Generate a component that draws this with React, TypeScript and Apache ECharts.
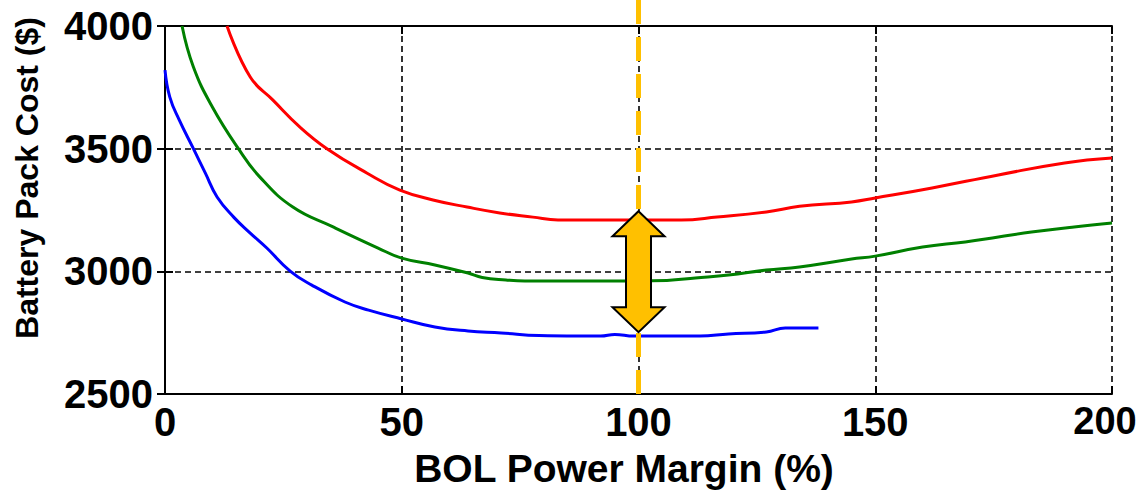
import React, { useEffect, useRef } from "react";
import * as echarts from "echarts";

const X_TICKS = [0, 50, 100, 150, 200];
const Y_TICKS = [2500, 3000, 3500, 4000];

const blueX = [0, 1, 3, 6, 8.5, 11, 14.5, 18, 21.5, 26.5, 31, 38, 43, 50, 57, 64, 71, 79, 87, 92, 95, 99, 106, 113, 119, 127, 131, 138];
const blueY = [3820, 3711, 3617, 3500, 3401, 3303, 3221, 3156, 3095, 3000, 2944, 2875, 2842, 2806, 2773, 2757, 2749, 2738, 2736, 2736, 2743, 2736, 2736, 2736, 2745, 2753, 2769, 2769];

const greenX = [3.6, 6, 10, 15.5, 20, 27, 35.5, 45, 50, 57, 64, 67, 72, 76, 88, 99, 106, 112, 119, 127, 134, 145, 150, 160, 169, 176, 183, 192, 200];
const greenY = [4000, 3833, 3670, 3500, 3385, 3262, 3181, 3095, 3054, 3026, 2993, 2975, 2965, 2961, 2961, 2961, 2963, 2973, 2985, 3005, 3018, 3050, 3062, 3099, 3120, 3140, 3160, 3181, 3197];

const redX = [13.1, 18, 22.8, 28.5, 34.2, 42.7, 49.6, 56.6, 63.8, 70.7, 77.7, 83, 95, 109, 116.6, 127, 134, 145, 150, 162, 176, 190, 200];
const redY = [4000, 3792, 3698, 3588, 3500, 3400, 3331, 3291, 3262, 3238, 3221, 3209, 3209, 3209, 3221, 3242, 3265, 3283, 3299, 3340, 3393, 3442, 3462];

const MARKER_X = 100;
const ARROW_TOP = 3245;
const ARROW_BOTTOM = 2752;

const X_TITLE = "BOL Power Margin (%)";
const Y_TITLE = "Battery Pack Cost ($)";

const FONT = '"Liberation Sans", Arial, sans-serif';

function zip(xs: number[], ys: number[]) {
  return xs.map((x, i) => [x, ys[i]]);
}

export default function App() {
  const ref = useRef<HTMLDivElement>(null);
  useEffect(() => {
    if (!ref.current) return;
    const chart = echarts.init(ref.current, null, { renderer: "svg", width: 1142, height: 490 });
    const axisLine = { show: true, lineStyle: { color: "#000", width: 2 } };
    const tick = { show: true, inside: true, length: 8, lineStyle: { color: "#000", width: 2 } };
    const split = { show: true, lineStyle: { color: "#000", width: 1.6, type: [6, 4] as any } };
    const lbl = { fontFamily: FONT, fontWeight: "bold", fontSize: 40, color: "#000" };
    const xMax = X_TICKS[X_TICKS.length - 1];
    const lineSeries = (name: string, xs: number[], ys: number[], color: string) => ({
      type: "line",
      name,
      data: zip(xs, ys),
      showSymbol: false,
      smooth: 0.45,
      lineStyle: { color, width: 3 },
      z: 3,
    });
    chart.setOption({
      animation: false,
      backgroundColor: "#fff",
      grid: { left: 165, top: 26, right: 30, bottom: 96, containLabel: false, outerBoundsMode: "none" },
      xAxis: [
        {
          type: "value",
          min: 0,
          max: 200,
          interval: 50,
          axisLine,
          axisTick: tick,
          splitLine: split,
          axisLabel: {
            ...lbl,
            margin: 8,
            formatter: (v: number) =>
              X_TICKS.includes(v) ? (v === xMax ? `{e|${v}}` : String(v)) : "",
            rich: {
              e: {
                fontFamily: FONT,
                fontWeight: "bold",
                fontSize: 38,
                color: "#000",
                padding: [0, 14, 0, 0],
              },
            },
          },
        },
        {
          type: "value",
          position: "top",
          min: 0,
          max: 200,
          interval: 50,
          axisLine,
          axisTick: tick,
          splitLine: { show: false },
          axisLabel: { show: false },
        },
      ],
      yAxis: [
        {
          type: "value",
          min: 2500,
          max: 4000,
          interval: 500,
          axisLine,
          axisTick: tick,
          splitLine: split,
          axisLabel: { ...lbl, margin: 12, formatter: (v: number) => (Y_TICKS.includes(v) ? String(v) : "") },
        },
        {
          type: "value",
          position: "right",
          min: 2500,
          max: 4000,
          interval: 500,
          axisLine,
          axisTick: tick,
          splitLine: { show: false },
          axisLabel: { show: false },
        },
      ],
      series: [
        lineSeries("blue", blueX, blueY, "#0000FF"),
        lineSeries("green", greenX, greenY, "#008000"),
        lineSeries("red", redX, redY, "#FF0000"),
      ],
    });

    const top = chart.convertToPixel({ gridIndex: 0 }, [MARKER_X, ARROW_TOP]) as number[];
    const bot = chart.convertToPixel({ gridIndex: 0 }, [MARKER_X, ARROW_BOTTOM]) as number[];
    const base = chart.convertToPixel({ gridIndex: 0 }, [MARKER_X, 2500]) as number[];
    const cx = top[0];
    const tT = top[1];
    const tB = bot[1];
    const hw = 26;
    const sw = 12.5;
    const hh = 25;

    chart.setOption({
      graphic: [
        {
          type: "line",
          z: 10,
          shape: { x1: cx, y1: 0, x2: cx, y2: base[1] + 6 },
          style: { stroke: "#FFC000", lineWidth: 5, lineDash: [24, 13] },
        },
        {
          type: "polygon",
          z: 11,
          shape: {
            points: [
              [cx, tT],
              [cx + hw, tT + hh],
              [cx + sw, tT + hh],
              [cx + sw, tB - hh],
              [cx + hw, tB - hh],
              [cx, tB],
              [cx - hw, tB - hh],
              [cx - sw, tB - hh],
              [cx - sw, tT + hh],
              [cx - hw, tT + hh],
            ],
          },
          style: { fill: "#FFC000", stroke: "#000", lineWidth: 2 },
        },
        {
          type: "text",
          x: 624,
          y: 468,
          style: {
            text: X_TITLE,
            fontFamily: FONT,
            fontWeight: "bold",
            fontSize: 39,
            fill: "#000",
            align: "center",
            verticalAlign: "middle",
          },
        },
        {
          type: "text",
          x: 27,
          y: 178,
          rotation: Math.PI / 2,
          style: {
            text: Y_TITLE,
            fontFamily: FONT,
            fontWeight: "bold",
            fontSize: 32,
            fill: "#000",
            align: "center",
            verticalAlign: "middle",
          },
        },
      ],
    });

    return () => chart.dispose();
  }, []);
  return (
    <div
      ref={ref}
      style={{ position: "fixed", left: 0, top: 0, width: 1142, height: 490, background: "#fff" }}
    />
  );
}
